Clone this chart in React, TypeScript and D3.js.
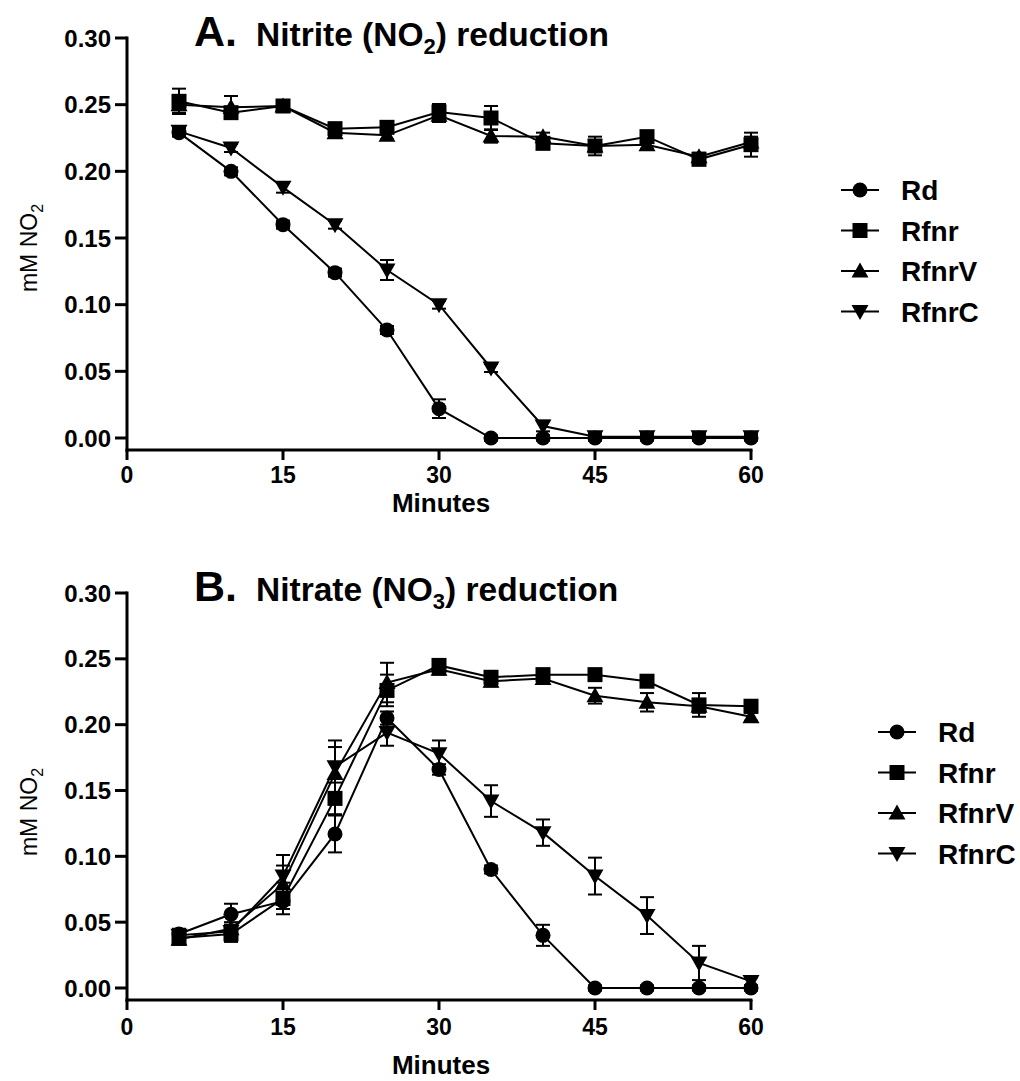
import React from "react";
import * as d3 from "d3";

// Sampling times (minutes)
const minutes = [5, 10, 15, 20, 25, 30, 35, 40, 45, 50, 55, 60];
const strains = ["Rd", "Rfnr", "RfnrV", "RfnrC"];
const xTicks = [0, 15, 30, 45, 60];
const yTicks = [0, 0.05, 0.1, 0.15, 0.2, 0.25, 0.3];

// Panel A: nitrite reduction, mM NO2 (mean and SD)
const nitriteRd = [0.229, 0.2, 0.16, 0.124, 0.081, 0.022, 0, 0, 0, 0, 0, 0];
const nitriteRdErr = [0.003, 0.003, 0.003, 0.003, 0.003, 0.007, 0.002, 0.002, 0.002, 0.002, 0.002, 0.002];
const nitriteRfnr = [0.2525, 0.244, 0.249, 0.232, 0.233, 0.2445, 0.24, 0.221, 0.219, 0.226, 0.209, 0.22];
const nitriteRfnrErr = [0.0095, 0.004, 0.003, 0.004, 0.003, 0.006, 0.009, 0.004, 0.007, 0.004, 0.003, 0.009];
const nitriteRfnrV = [0.25, 0.248, 0.249, 0.229, 0.227, 0.242, 0.2265, 0.226, 0.219, 0.22, 0.211, 0.222];
const nitriteRfnrVErr = [0.006, 0.0085, 0.003, 0.003, 0.003, 0.005, 0.005, 0.003, 0.004, 0.003, 0.003, 0.004];
const nitriteRfnrC = [0.23, 0.2175, 0.188, 0.16, 0.126, 0.1, 0.0525, 0.009, 0.001, 0.001, 0.001, 0.001];
const nitriteRfnrCErr = [0.003, 0.003, 0.004, 0.003, 0.0075, 0.003, 0.003, 0.004, 0.002, 0.002, 0.002, 0.002];

// Panel B: nitrate reduction, mM NO2 produced (mean and SD)
const nitrateRd = [0.041, 0.056, 0.066, 0.117, 0.205, 0.166, 0.09, 0.04, 0, 0, 0, 0];
const nitrateRdErr = [0.004, 0.008, 0.006, 0.014, 0.005, 0.004, 0.003, 0.008, 0.002, 0.002, 0.002, 0.002];
const nitrateRfnr = [0.038, 0.041, 0.068, 0.144, 0.226, 0.245, 0.236, 0.238, 0.238, 0.233, 0.215, 0.214];
const nitrateRfnrErr = [0.005, 0.006, 0.012, 0.012, 0.012, 0.004, 0.004, 0.004, 0.004, 0.004, 0.009, 0.004];
const nitrateRfnrV = [0.037, 0.045, 0.079, 0.163, 0.232, 0.242, 0.233, 0.235, 0.222, 0.217, 0.214, 0.206];
const nitrateRfnrVErr = [0.004, 0.005, 0.014, 0.02, 0.015, 0.004, 0.004, 0.004, 0.006, 0.007, 0.005, 0.003];
const nitrateRfnrC = [0.04, 0.043, 0.085, 0.168, 0.194, 0.178, 0.142, 0.118, 0.085, 0.055, 0.019, 0.005];
const nitrateRfnrCErr = [0.004, 0.005, 0.016, 0.02, 0.01, 0.01, 0.012, 0.01, 0.014, 0.014, 0.013, 0.003];

type Series = { name: string; values: number[]; errors: number[] };

const panelA: Series[] = [
  { name: strains[0], values: nitriteRd, errors: nitriteRdErr },
  { name: strains[1], values: nitriteRfnr, errors: nitriteRfnrErr },
  { name: strains[2], values: nitriteRfnrV, errors: nitriteRfnrVErr },
  { name: strains[3], values: nitriteRfnrC, errors: nitriteRfnrCErr },
];
const panelB: Series[] = [
  { name: strains[0], values: nitrateRd, errors: nitrateRdErr },
  { name: strains[1], values: nitrateRfnr, errors: nitrateRfnrErr },
  { name: strains[2], values: nitrateRfnrV, errors: nitrateRfnrVErr },
  { name: strains[3], values: nitrateRfnrC, errors: nitrateRfnrCErr },
];

const FONT = "'Liberation Sans', Arial, Helvetica, sans-serif";

function Marker({ kind, x, y }: { kind: number; x: number; y: number }) {
  if (kind === 0) return <circle cx={x} cy={y} r={7.5} fill="#000" />;
  if (kind === 1) return <rect x={x - 7.5} y={y - 7.5} width={15} height={15} fill="#000" />;
  if (kind === 2)
    return <path d={`M${x},${y - 8.5} L${x + 8.5},${y + 6.5} L${x - 8.5},${y + 6.5} Z`} fill="#000" />;
  return <path d={`M${x},${y + 8.5} L${x + 8.5},${y - 6.5} L${x - 8.5},${y - 6.5} Z`} fill="#000" />;
}

type PanelProps = {
  series: Series[];
  top: number; // pixel of 0.30
  zero: number; // pixel of 0.00
  letter: string;
  title: string;
  sub: string;
  legendX: number;
  legendY: number;
  labelY: number;
  tickLabelY: number;
  minutesY: number;
};

function Panel({
  series,
  top,
  zero,
  letter,
  title,
  sub,
  legendX,
  legendY,
  labelY,
  tickLabelY,
  minutesY,
}: PanelProps) {
  const x = d3.scaleLinear().domain([0, 60]).range([127, 751]);
  const y = d3.scaleLinear().domain([0, 0.3]).range([zero, top]);
  const axisBottom = zero + 12;
  const line = d3
    .line<[number, number]>()
    .x((d) => x(d[0]))
    .y((d) => y(d[1]));

  return (
    <g fontFamily={FONT}>
      {/* title */}
      <text x={194} y={top + 8} fontSize={43} fontWeight="bold">
        {letter}
      </text>
      <text x={256} y={top + 8} fontSize={33.5} fontWeight="bold">
        {title} (NO
        <tspan fontSize={22} dy={8}>
          {sub}
        </tspan>
        <tspan dy={-8}>) reduction</tspan>
      </text>

      {/* axes */}
      <line x1={127} x2={127} y1={top - 1.5} y2={axisBottom + 1.5} stroke="#000" strokeWidth={3} />
      <line x1={125.5} x2={x(60) + 1.5} y1={axisBottom} y2={axisBottom} stroke="#000" strokeWidth={3} />
      {yTicks.map((t) => (
        <g key={t}>
          <line x1={115} x2={127} y1={y(t)} y2={y(t)} stroke="#000" strokeWidth={3} />
          <text x={111} y={y(t)} dy="0.36em" textAnchor="end" fontSize={24} fontWeight="bold">
            {d3.format(".2f")(t)}
          </text>
        </g>
      ))}
      {xTicks.map((t) => (
        <g key={t}>
          <line x1={x(t)} x2={x(t)} y1={axisBottom} y2={axisBottom + 10} stroke="#000" strokeWidth={3} />
          <text x={x(t)} y={tickLabelY} dy="0.36em" textAnchor="middle" fontSize={23} fontWeight="bold">
            {t}
          </text>
        </g>
      ))}
      <text x={441} y={minutesY} dy="0.36em" textAnchor="middle" fontSize={26} fontWeight="bold">
        Minutes
      </text>
      <text transform={`translate(37,${labelY}) rotate(-90)`} textAnchor="middle" fontSize={23}>
        mM NO
        <tspan fontSize={16} dy={6}>
          2
        </tspan>
      </text>

      {/* connecting lines */}
      {series.map((s) => (
        <path
          key={s.name}
          d={line(minutes.map((m, i) => [m, s.values[i]]) as [number, number][]) || ""}
          fill="none"
          stroke="#000"
          strokeWidth={2}
        />
      ))}
      {/* error bars and markers */}
      {series.map((s, k) => (
        <g key={s.name}>
          {minutes.map((m, i) => {
            const cx = x(m);
            const hi = y(s.values[i] + s.errors[i]);
            const lo = y(Math.max(s.values[i] - s.errors[i], -0.008));
            return (
              <g key={m}>
                <line x1={cx} x2={cx} y1={hi} y2={lo} stroke="#000" strokeWidth={2} />
                <line x1={cx - 7} x2={cx + 7} y1={hi} y2={hi} stroke="#000" strokeWidth={2} />
                <line x1={cx - 7} x2={cx + 7} y1={lo} y2={lo} stroke="#000" strokeWidth={2} />
              </g>
            );
          })}
          {minutes.map((m, i) => (
            <Marker key={m} kind={k} x={x(m)} y={y(s.values[i])} />
          ))}
        </g>
      ))}

      {/* legend */}
      {series.map((s, k) => {
        const ly = legendY + k * 40.5;
        return (
          <g key={s.name}>
            <line x1={legendX - 19} x2={legendX + 19} y1={ly} y2={ly} stroke="#000" strokeWidth={2} />
            <Marker kind={k} x={legendX} y={ly} />
            <text x={legendX + 41} y={ly} dy="0.36em" fontSize={28} fontWeight="bold">
              {s.name}
            </text>
          </g>
        );
      })}
    </g>
  );
}

export default function App() {
  return (
    <svg
      width={1020}
      height={1081}
      style={{ display: "block", position: "absolute", left: 0, top: 0, background: "#fff" }}
    >
      <rect width={1020} height={1081} fill="#fff" />
      <Panel
        series={panelA}
        top={38}
        zero={438}
        letter="A."
        title="Nitrite"
        sub="2"
        legendX={860}
        legendY={190}
        labelY={248}
        tickLabelY={475}
        minutesY={503}
      />
      <Panel
        series={panelB}
        top={593}
        zero={988}
        letter="B."
        title="Nitrate"
        sub="3"
        legendX={897}
        legendY={732}
        labelY={812}
        tickLabelY={1027}
        minutesY={1065}
      />
    </svg>
  );
}
